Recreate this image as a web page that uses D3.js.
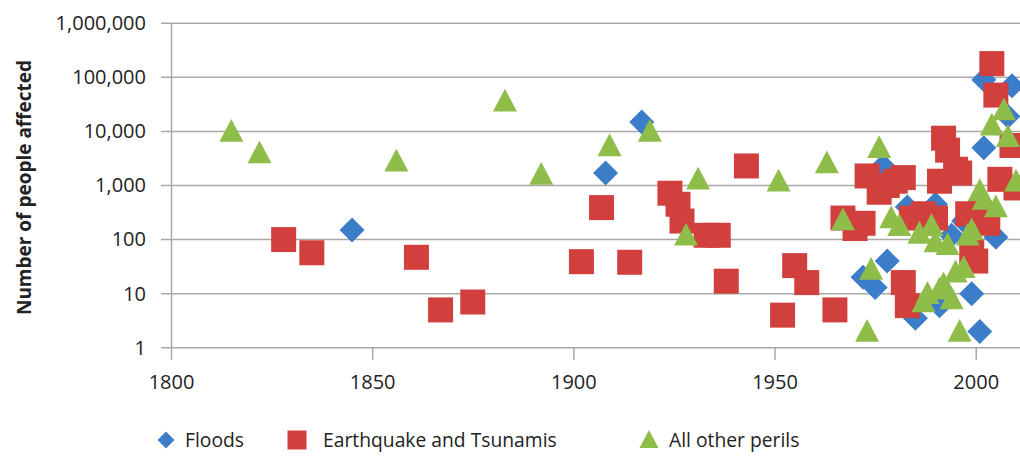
<!DOCTYPE html>
<html>
<head>
<meta charset="utf-8">
<script src="https://cdn.jsdelivr.net/npm/d3@7"></script>
<style>
  html, body { margin: 0; padding: 0; background: #fff; }
  svg text { font-family: "Open Sans", "Noto Sans", sans-serif; fill: #222; }
</style>
</head>
<body>
<svg id="chart" width="1020" height="456"></svg>
<script>
// ---- Data ----
const floodYears  = [1845, 1908, 1917, 1972, 1975, 1977, 1978, 1983, 1985, 1990, 1991, 1994, 1997, 1999, 2001, 2002, 2002, 2005, 2008, 2009];
const floodValues = [150, 1700, 15000, 20, 13, 2300, 40, 400, 3.5, 450, 6, 120, 220, 10, 2, 90000, 5000, 110, 19000, 70000];

const quakeYears  = [1828, 1835, 1861, 1867, 1875, 1902, 1907, 1914, 1924, 1926, 1927, 1933, 1936, 1938, 1943, 1952, 1955, 1958, 1965, 1967, 1970, 1972, 1973, 1976, 1978, 1980, 1982, 1982, 1983, 1984, 1987, 1990, 1991, 1992, 1993, 1995, 1996, 1998, 1999, 2000, 2001, 2003, 2004, 2005, 2006, 2009, 2010];
const quakeValues = [100, 57, 47, 5, 7, 39, 390, 38, 720, 450, 220, 120, 120, 17, 2300, 4, 33, 16, 5, 250, 160, 200, 1500, 750, 1000, 1200, 1400, 16, 6, 250, 300, 250, 1200, 7500, 4500, 2000, 1700, 300, 60, 40, 300, 200, 180000, 47000, 1300, 5500, 900];

const perilYears  = [1815, 1822, 1856, 1883, 1892, 1909, 1919, 1928, 1931, 1951, 1963, 1967, 1973, 1974, 1976, 1979, 1981, 1986, 1987, 1988, 1989, 1990, 1991, 1992, 1993, 1994, 1995, 1996, 1997, 1998, 1999, 2001, 2002, 2004, 2005, 2007, 2008, 2010];
const perilValues = [10000, 4000, 2800, 36000, 1600, 5400, 10000, 120, 1300, 1200, 2600, 230, 2, 28, 5000, 250, 180, 130, 7, 10, 180, 90, 12, 15, 80, 8, 25, 2, 30, 120, 150, 800, 550, 13000, 400, 25000, 8000, 1200];

const xTicks = [1800, 1850, 1900, 1950, 2000];
const yTicks = [1, 10, 100, 1000, 10000, 100000, 1000000];
const seriesNames = ["Floods", "Earthquake and Tsunamis", "All other perils"];
const yTitle = "Number of people affected";

// ---- Layout ----
const colors = ["#3b7dc8", "#d1403d", "#8fbd4a"];
const svg = d3.select("#chart");
const plotLeft = 171, plotRight = 1020, plotTop = 23.3, plotBottom = 347.7;

const x = d3.scaleLinear().domain([1800, 2011]).range([plotLeft, plotRight]);
const y = d3.scaleLog().domain([1, 1000000]).range([plotBottom, plotTop]);

// gridlines
svg.append("g").selectAll("line").data(yTicks).join("line")
  .attr("x1", plotLeft - 10).attr("x2", plotRight)
  .attr("y1", d => y(d)).attr("y2", d => y(d))
  .attr("stroke", "#a8a8a8").attr("stroke-width", 1.5);

// y axis
const yAxis = d3.axisLeft(y).tickValues(yTicks).tickFormat(d3.format(",")).tickSize(0).tickPadding(25);
const gy = svg.append("g").attr("transform", `translate(${plotLeft},0)`).call(yAxis);
gy.select(".domain").attr("stroke", "#a8a8a8").attr("stroke-width", 1.5);
gy.selectAll("text").attr("font-size", 20).attr("fill", "#222");

// x axis
const xAxis = d3.axisBottom(x).tickValues(xTicks).tickFormat(d3.format("d")).tickSize(12).tickPadding(15);
const gx = svg.append("g").attr("transform", `translate(0,${plotBottom})`).call(xAxis);
gx.select(".domain").remove();
gx.selectAll(".tick line").attr("stroke", "#a8a8a8").attr("stroke-width", 1.5);
gx.selectAll("text").attr("font-size", 20).attr("fill", "#222");

// y title
svg.append("text")
  .attr("transform", `translate(31,${(plotTop + plotBottom) / 2 + 2}) rotate(-90)`)
  .attr("text-anchor", "middle")
  .attr("font-size", 19).attr("font-weight", "bold")
  .text(yTitle);

// ---- Marks ----
function shape(i, s) {
  if (i === 0) return `M0,${-s}L${s},0L0,${s}L${-s},0Z`;
  if (i === 1) return `M${-s},${-s}H${s}V${s}H${-s}Z`;
  const h = s * 1.9;
  return `M0,${-h * 0.55}L${s},${h * 0.45}L${-s},${h * 0.45}Z`;
}
const series = [
  floodYears.map((d, i) => ({ year: d, value: floodValues[i] })),
  quakeYears.map((d, i) => ({ year: d, value: quakeValues[i] })),
  perilYears.map((d, i) => ({ year: d, value: perilValues[i] }))
];
const sizes = [12.5, 12.5, 12];
const plot = svg.append("g");
series.forEach((data, si) => {
  plot.append("g").selectAll("path").data(data).join("path")
    .attr("transform", d => `translate(${x(d.year)},${y(d.value)})`)
    .attr("d", shape(si, sizes[si]))
    .attr("fill", colors[si]);
});

// ---- Legend ----
const legendItems = [
  { sx: 166, tx: 185 },
  { sx: 297, tx: 323 },
  { sx: 649, tx: 669 }
];
const legendSizes = [8.5, 9.5, 9.5];
const lg = svg.append("g").attr("transform", "translate(0,440)");
legendItems.forEach((it, i) => {
  lg.append("path").attr("transform", `translate(${it.sx},0)`).attr("d", shape(i, legendSizes[i])).attr("fill", colors[i]);
  lg.append("text").attr("x", it.tx).attr("y", 0).attr("dy", "0.35em")
    .attr("font-size", 19.3).text(seriesNames[i]);
});
</script>
</body>
</html>
